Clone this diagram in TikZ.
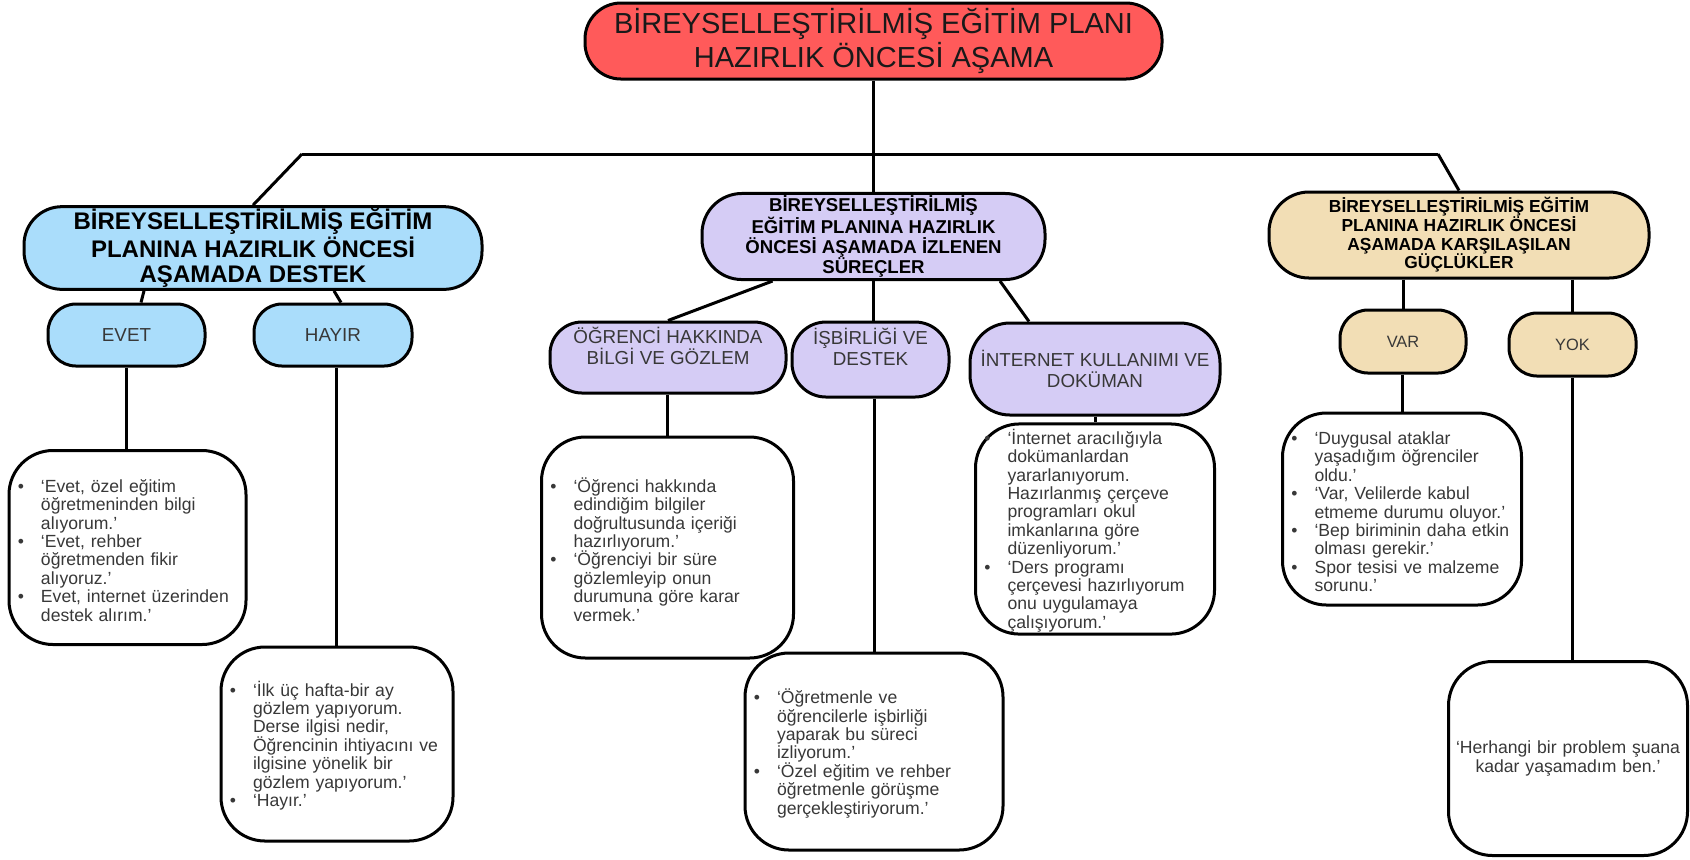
\documentclass[tikz,border=0pt]{standalone}
\usepackage{fontspec}
\setmainfont{Liberation Sans}
\usepackage{enumitem}
\usetikzlibrary{calc}

\definecolor{rootred}{HTML}{FF5A5A}
\definecolor{supblue}{HTML}{AADDFB}
\definecolor{procpurple}{HTML}{D5CCF5}
\definecolor{difftan}{HTML}{F2DEB5}
\definecolor{quotegray}{HTML}{383838}

\newcommand{\rootfont}{\fontsize{14.5pt}{15.5pt}\selectfont}
\newcommand{\bluefont}{\bfseries\fontsize{12pt}{12.5pt}\selectfont}
\newcommand{\purplefont}{\bfseries\fontsize{9.3pt}{10pt}\selectfont}
\newcommand{\tanfont}{\bfseries\fontsize{8.7pt}{9.3pt}\selectfont}
\newcommand{\subfont}{\fontsize{9.4pt}{10.5pt}\selectfont}
\newcommand{\smallsubfont}{\fontsize{8.2pt}{9pt}\selectfont}
\newcommand{\leaffont}{\fontsize{8.8pt}{9.2pt}\selectfont}

\newlist{said}{itemize}{1}
\setlist[said]{label=\textbullet, nosep, leftmargin=16pt, labelsep=8.5pt}

\begin{document}
\begin{tikzpicture}[x=0.5pt,y=-0.5pt,
    headbox/.style={draw=black, line width=1.5pt, inner xsep=0pt, inner ysep=1pt, align=center, rounded corners=19pt, text=black},
    subbox/.style={draw=black, line width=1.5pt, inner xsep=0pt, inner ysep=1pt, align=center, rounded corners=14pt, font=\subfont, text=quotegray},
    leafbox/.style={draw=black, line width=1.5pt, inner xsep=0pt, inner ysep=1pt, align=left, rounded corners=22pt, font=\leaffont, text=quotegray, fill=white},
    wire/.style={line width=1.5pt, black}]
\useasboundingbox (0,0) rectangle (1690,859);

\edef\bary{154}

\node[headbox, fill=rootred, minimum width=288.5pt, minimum height=38pt, rounded corners=18pt, font=\rootfont, text=black!90] (root) at (873.5,41) {BİREYSELLEŞTİRİLMİŞ EĞİTİM PLANI\\HAZIRLIK ÖNCESİ AŞAMA};

\node[headbox, fill=supblue, minimum width=229pt, minimum height=41pt, font=\bluefont] (support) at (253,248) {BİREYSELLEŞTİRİLMİŞ EĞİTİM\\PLANINA HAZIRLIK ÖNCESİ\\AŞAMADA DESTEK};
\node[headbox, fill=procpurple, minimum width=171.5pt, minimum height=42.5pt, rounded corners=20pt, font=\purplefont] (process) at (873.5,236.5) {BİREYSELLEŞTİRİLMİŞ\\EĞİTİM PLANINA HAZIRLIK\\ÖNCESİ AŞAMADA İZLENEN\\SÜREÇLER};
\node[headbox, fill=difftan, minimum width=190pt, minimum height=43pt, rounded corners=20pt, font=\tanfont] (difficulty) at (1459,235) {BİREYSELLEŞTİRİLMİŞ EĞİTİM\\PLANINA HAZIRLIK ÖNCESİ\\AŞAMADA KARŞILAŞILAN\\GÜÇLÜKLER};

\node[subbox, fill=supblue, minimum width=78.5pt, minimum height=31pt] (evet) at (126.5,335) {EVET};
\node[subbox, fill=supblue, minimum width=79pt, minimum height=31pt] (hayir) at (333,335) {HAYIR};

\node[subbox, fill=procpurple, minimum width=118pt, minimum height=35.5pt, rounded corners=16pt] (ogrenci) at (668,357.5) {ÖĞRENCİ HAKKINDA\\BİLGİ VE GÖZLEM\rule[-12pt]{0pt}{0pt}};
\node[subbox, fill=procpurple, minimum width=78.5pt, minimum height=37.5pt, rounded corners=17pt] (isbirligi) at (870.5,359.5) {İŞBİRLİĞİ VE\\DESTEK\rule[-13pt]{0pt}{0pt}};
\node[subbox, fill=procpurple, minimum width=125pt, minimum height=46pt, rounded corners=20pt] (internet) at (1095,369) {İNTERNET KULLANIMI VE\\DOKÜMAN};

\node[subbox, fill=difftan, minimum width=63pt, minimum height=31.5pt, font=\smallsubfont] (var) at (1403,341.5) {VAR};
\node[subbox, fill=difftan, minimum width=63.5pt, minimum height=31.5pt, font=\smallsubfont] (yok) at (1572.5,344.5) {YOK};

\node[leafbox, text width=118.5pt, minimum height=97pt] (evetsaid) at (127.5,547.5) {\begin{said}
\item ‘Evet, özel eğitim\\öğretmeninden bilgi\\alıyorum.’
\item ‘Evet, rehber\\öğretmenden fikir\\alıyoruz.’
\item Evet, internet üzerinden\\destek alırım.’
\end{said}};
\node[leafbox, text width=116pt, minimum height=97pt] (hayirsaid) at (337,744) {\begin{said}
\item ‘İlk üç hafta-bir ay\\gözlem yapıyorum.\\Derse ilgisi nedir,\\Öğrencinin ihtiyacını ve\\ilgisine yönelik bir\\gözlem yapıyorum.’
\item ‘Hayır.’
\end{said}};

\node[leafbox, text width=126pt, minimum height=110.5pt] (ogrencisaid) at (667.5,547.5) {\begin{said}
\item ‘Öğrenci hakkında\\edindiğim bilgiler\\doğrultusunda içeriği\\hazırlıyorum.’
\item ‘Öğrenciyi bir süre\\gözlemleyip onun\\durumuna göre karar\\vermek.’
\end{said}};
\node[leafbox, text width=129pt, minimum height=98.5pt] (isbirligisaid) at (874,751.5) {\begin{said}
\item ‘Öğretmenle ve\\öğrencilerle işbirliği\\yaparak bu süreci\\izliyorum.’
\item ‘Özel eğitim ve rehber\\öğretmenle görüşme\\gerçekleştiriyorum.’
\end{said}};
\node[leafbox, text width=119.5pt, minimum height=105pt] (internetsaid) at (1095,529) {\begin{said}
\item ‘İnternet aracılığıyla\\dokümanlardan\\yararlanıyorum.\\Hazırlanmış çerçeve\\programları okul\\imkanlarına göre\\düzenliyorum.’
\item ‘Ders programı\\çerçevesi hazırlıyorum\\onu uygulamaya\\çalışıyorum.’
\end{said}};

\node[leafbox, text width=119.5pt, minimum height=96pt] (varsaid) at (1402,509) {\begin{said}
\item ‘Duygusal ataklar\\yaşadığım öğrenciler\\oldu.’
\item ‘Var, Velilerde kabul\\etmeme durumu oluyor.’
\item ‘Bep biriminin daha etkin\\olması gerekir.’
\item Spor tesisi ve malzeme\\sorunu.’
\end{said}};
\node[leafbox, text width=119.5pt, minimum height=97pt, align=center] (yoksaid) at (1568,758.5) {‘Herhangi bir problem şuana\\kadar yaşamadım ben.’};

\coordinate (barL) at (302,\bary);
\coordinate (barR) at (1438,\bary);

\draw[wire] (root.south) -- (process.north);
\draw[wire] (barL) -- (barR);
\draw[wire] (barL) -- (support.north);
\draw[wire] (barR) -- (difficulty.north);

\draw[wire] ($(support.south)+(-109,0)$) -- ($(evet.north)+(14.5,0)$);
\draw[wire] ($(support.south)+(81,0)$) -- ($(hayir.north)+(8,0)$);
\draw[wire] (evet.south) -- (evet.south |- evetsaid.north);
\draw[wire] ($(hayir.south)+(3,0)$) -- ($(hayir.south |- hayirsaid.north)+(3,0)$);

\draw[wire] ($(process.south)+(-101,0)$) -- (ogrenci.north);
\draw[wire] (process.south) -- (process.south |- isbirligi.north);
\draw[wire] ($(process.south)+(126.5,0)$) -- ($(internet.north)+(-66,0)$);
\draw[wire] (ogrenci.south -| ogrencisaid.north) -- (ogrencisaid.north);
\draw[wire] (isbirligi.south -| isbirligisaid.north) -- (isbirligisaid.north);
\draw[wire] (internet.south) -- (internetsaid.north);

\draw[wire] (difficulty.south -| var.north) -- (var.north);
\draw[wire] (difficulty.south -| yok.north) -- (yok.north);
\draw[wire] (var.south -| varsaid.north) -- (varsaid.north);
\draw[wire] (yok.south) -- (yok.south |- yoksaid.north);
\end{tikzpicture}
\end{document}
